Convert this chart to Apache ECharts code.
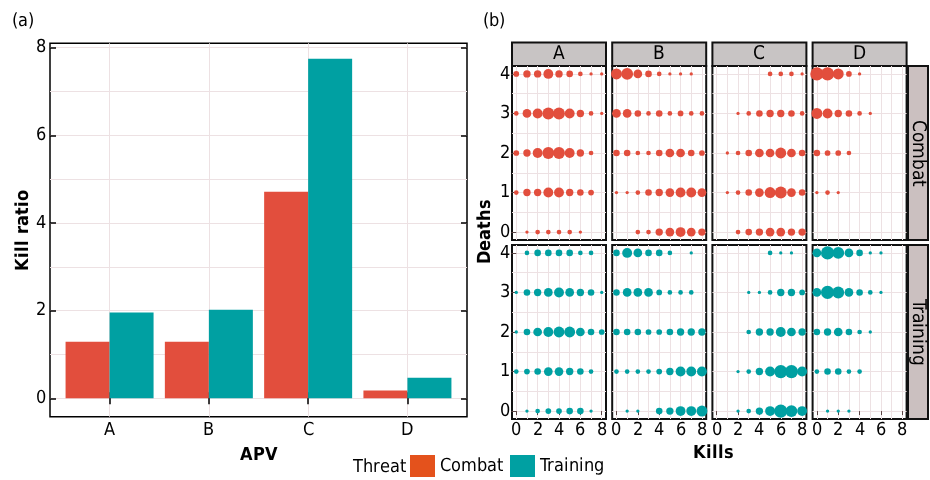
<!DOCTYPE html>
<html>
<head>
<meta charset="utf-8">
<script src="https://cdn.jsdelivr.net/npm/echarts@6/dist/echarts.min.js"></script>
<style>
@font-face {
  font-family: 'NarrowSans';
  font-weight: normal;
  src: local('Liberation Sans Narrow'), local('LiberationSansNarrow-Regular'), local('LiberationSansNarrow'),
       local('DejaVu Sans Condensed'), local('DejaVuSansCondensed');
}
@font-face {
  font-family: 'NarrowSans';
  font-weight: bold;
  src: local('Liberation Sans Narrow Bold'), local('LiberationSansNarrow-Bold'),
       local('DejaVu Sans Condensed Bold'), local('DejaVuSansCondensed-Bold');
}
html, body { margin: 0; padding: 0; background: #fff; }
#chart { width: 930px; height: 480px; }
</style>
</head>
<body>
<div id="chart"></div>
<script>
// (a) kill ratio per APV
const apv = ['A', 'B', 'C', 'D']
const combatRatio = [1.29, 1.29, 4.71, 0.18]
const trainingRatio = [1.96, 2.02, 7.75, 0.47]
const ratioTicks = [0, 2, 4, 6, 8]
const ratioMinor = [1, 3, 5, 7]

// (b) number of games per kills (columns 0..8) and deaths (rows, 4 down to 0)
const killTicks = [0, 2, 4, 6, 8]
const killMinor = [1, 3, 5, 7]
const deathTicks = [0, 1, 2, 3, 4]
const deathMinor = [0.5, 1.5, 2.5, 3.5]

const combatA = [
  [3, 5, 5, 9, 5, 4, 2, 1, 1],
  [2, 7, 9, 13, 13, 9, 5, 2, 1],
  [3, 5, 9, 13, 13, 9, 5, 2, 0],
  [2, 5, 5, 9, 9, 5, 4, 3, 0],
  [0, 1, 2, 2, 2, 2, 1, 0, 0]
]
const combatB = [
  [11, 13, 7, 4, 2, 1, 1, 1, 0],
  [7, 7, 4, 2, 4, 2, 3, 2, 2],
  [4, 4, 2, 2, 4, 7, 7, 4, 3],
  [1, 1, 2, 4, 5, 7, 9, 9, 7],
  [0, 0, 2, 2, 5, 7, 9, 7, 5]
]
const combatC = [
  [0, 0, 0, 0, 0, 2, 2, 2, 1],
  [0, 0, 1, 2, 4, 5, 5, 4, 2],
  [0, 1, 2, 4, 7, 7, 11, 7, 4],
  [0, 1, 2, 4, 7, 11, 13, 7, 4],
  [0, 0, 2, 4, 5, 7, 7, 5, 5]
]
const combatD = [
  [16, 16, 11, 3, 1, 0, 0, 0, 0],
  [11, 9, 5, 4, 2, 1, 0, 0, 0],
  [4, 3, 3, 2, 0, 0, 0, 0, 0],
  [1, 2, 1, 0, 0, 0, 0, 0, 0],
  [0, 0, 0, 0, 0, 0, 0, 0, 0]
]
const trainingA = [
  [0, 2, 4, 4, 4, 4, 2, 2, 0],
  [1, 4, 5, 7, 9, 7, 5, 4, 1],
  [1, 4, 7, 9, 11, 11, 7, 4, 3],
  [2, 3, 4, 7, 7, 5, 4, 2, 0],
  [0, 1, 2, 3, 3, 4, 4, 1, 0]
]
const trainingB = [
  [4, 9, 7, 4, 4, 2, 0, 1, 0],
  [4, 7, 7, 7, 3, 2, 2, 2, 0],
  [4, 4, 4, 3, 3, 4, 5, 5, 5],
  [2, 2, 2, 2, 3, 5, 9, 9, 9],
  [0, 1, 1, 0, 4, 5, 9, 9, 11]
]
const trainingC = [
  [0, 0, 0, 0, 0, 2, 1, 1, 0],
  [0, 0, 0, 1, 1, 2, 5, 5, 3],
  [0, 0, 0, 2, 5, 5, 9, 7, 5],
  [0, 0, 1, 2, 5, 9, 16, 16, 9],
  [0, 0, 1, 2, 5, 9, 16, 13, 9]
]
const trainingD = [
  [7, 16, 13, 7, 4, 1, 1, 0, 0],
  [7, 16, 13, 7, 4, 2, 1, 0, 0],
  [4, 5, 7, 4, 2, 1, 0, 0, 0],
  [2, 4, 4, 2, 2, 0, 0, 0, 0],
  [0, 1, 1, 1, 0, 0, 0, 0, 0]
]

const combatColor = '#E24E3D'
const trainingColor = '#00A0A2'
const gridColor = '#ede1e3'
const font = "NarrowSans, 'Liberation Sans', sans-serif"

const panels = [
  { name: 'Combat', color: combatColor, data: [combatA, combatB, combatC, combatD] },
  { name: 'Training', color: trainingColor, data: [trainingA, trainingB, trainingC, trainingD] }
]

// facet layout
const colLeft = [512, 612.2, 712.4, 812.6]
const rowTop = [66, 245]
const panelW = 94
const panelH = 174

const toPoints = (rows) => {
  const pts = []
  rows.forEach((row, i) => {
    row.forEach((n, k) => {
      if (n > 0) pts.push([k, 4 - i, n])
    })
  })
  return pts
}

const noTick = { show: false, length: 0 }

const buildOption = () => {
  const grids = [
    { left: 50, top: 43.3, width: 417, height: 373.4, show: true, borderColor: '#000', borderWidth: 1.5 }
  ]
  const xAxes = [
    {
      gridIndex: 0, type: 'value', min: 0.4, max: 4.6,
      axisLine: { show: false },
      axisTick: { customValues: [1, 2, 3, 4], inside: true, length: 6, lineStyle: { color: '#000', width: 1.5 } },
      axisLabel: { customValues: [1, 2, 3, 4], formatter: v => apv[Math.round(v) - 1], fontSize: 18, color: '#000', fontFamily: font, margin: 5 },
      splitLine: { show: true, lineStyle: { color: gridColor } }
    },
    {
      gridIndex: 0, type: 'value', min: 0.4, max: 4.6, position: 'top',
      axisLine: { show: false },
      axisTick: { customValues: [1, 2, 3, 4], inside: true, length: 6, lineStyle: { color: '#000', width: 1.5 } },
      axisLabel: { show: false },
      splitLine: { show: false }
    }
  ]
  const yAxes = [
    {
      gridIndex: 0, type: 'value', min: -0.42, max: 8.1,
      axisLine: { show: false },
      axisTick: { customValues: ratioTicks, inside: true, length: 6, lineStyle: { color: '#000', width: 1.5 } },
      axisLabel: { customValues: ratioTicks, fontSize: 18, color: '#000', fontFamily: font, margin: 4 },
      splitLine: { show: true, lineStyle: { color: gridColor } }
    },
    {
      gridIndex: 0, type: 'value', min: -0.42, max: 8.1, position: 'right',
      axisLine: { show: false },
      axisTick: { customValues: ratioTicks, inside: true, length: 6, lineStyle: { color: '#000', width: 1.5 } },
      axisLabel: { show: false },
      splitLine: { show: false }
    },
    {
      gridIndex: 0, type: 'value', min: -0.42, max: 8.1,
      axisLine: { show: false },
      axisTick: { ...noTick, customValues: ratioMinor },
      axisLabel: { show: false },
      splitLine: { show: true, lineStyle: { color: gridColor } }
    }
  ]

  const series = [
    {
      name: 'Combat', type: 'bar', xAxisIndex: 0, yAxisIndex: 0,
      barWidth: 44, barGap: '0%',
      itemStyle: { color: combatColor },
      data: combatRatio.map((v, i) => [i + 1, v])
    },
    {
      name: 'Training', type: 'bar', xAxisIndex: 0, yAxisIndex: 0,
      barWidth: 44, barGap: '0%',
      itemStyle: { color: trainingColor },
      data: trainingRatio.map((v, i) => [i + 1, v])
    }
  ]

  const graphics = []

  panels.forEach((threat, r) => {
    threat.data.forEach((rows, c) => {
      const g = grids.length
      grids.push({
        left: colLeft[c], top: rowTop[r], width: panelW, height: panelH,
        show: true, borderColor: '#111', borderWidth: 2
      })
      const xi = xAxes.length
      xAxes.push({
        gridIndex: g, type: 'value', min: -0.4, max: 8.4,
        axisLine: { show: false },
        axisTick: r === 1
          ? { customValues: killTicks, length: 4, lineStyle: { color: '#5a4444' } }
          : { ...noTick, customValues: killTicks },
        axisLabel: { show: r === 1, customValues: killTicks, fontSize: 18, color: '#000', fontFamily: font, margin: 2 },
        splitLine: { show: true, lineStyle: { color: gridColor } }
      }, {
        gridIndex: g, type: 'value', min: -0.4, max: 8.4, position: 'top',
        axisLine: { show: false },
        axisTick: { ...noTick, customValues: killMinor },
        axisLabel: { show: false },
        splitLine: { show: true, lineStyle: { color: gridColor } }
      })
      const yi = yAxes.length
      yAxes.push({
        gridIndex: g, type: 'value', min: -0.2, max: 4.2,
        axisLine: { show: false },
        axisTick: c === 0
          ? { customValues: deathTicks, length: 5, lineStyle: { color: '#5a4444' } }
          : { ...noTick, customValues: deathTicks },
        axisLabel: { show: c === 0, customValues: deathTicks, fontSize: 18, color: '#000', fontFamily: font, margin: 2 },
        splitLine: { show: true, lineStyle: { color: gridColor } }
      }, {
        gridIndex: g, type: 'value', min: -0.2, max: 4.2, position: 'right',
        axisLine: { show: false },
        axisTick: { ...noTick, customValues: deathMinor },
        axisLabel: { show: false },
        splitLine: { show: true, lineStyle: { color: gridColor } }
      })
      series.push({
        name: threat.name, type: 'scatter', xAxisIndex: xi, yAxisIndex: yi,
        symbol: 'circle',
        symbolSize: v => Math.sqrt(v[2]) * 3.3,
        itemStyle: { color: threat.color, opacity: 1 },
        clip: true,
        data: toPoints(rows)
      })
    })
    // right strip
    graphics.push({
      type: 'rect',
      shape: { x: 908, y: rowTop[r], width: 20, height: panelH },
      style: { fill: '#cbc0c0', stroke: '#111', lineWidth: 2 }
    }, {
      type: 'text',
      x: 918, y: rowTop[r] + panelH / 2, rotation: -Math.PI / 2,
      style: { text: threat.name, fontSize: 19, fontFamily: font, fill: '#000', align: 'center', verticalAlign: 'middle' }
    })
  })

  // top strips
  apv.forEach((name, c) => {
    graphics.push({
      type: 'rect',
      shape: { x: colLeft[c], y: 42.5, width: panelW, height: 23.5 },
      style: { fill: '#c8c4c4', stroke: '#111', lineWidth: 2 }
    }, {
      type: 'text',
      x: colLeft[c] + panelW / 2, y: 54.5,
      style: { text: name, fontSize: 19, fontFamily: font, fill: '#000', align: 'center', verticalAlign: 'middle' }
    })
  })

  const label = (text, x, y, opts = {}) => ({
    type: 'text', x, y, rotation: opts.rotation || 0,
    style: {
      text, fontSize: 18, fontFamily: font, fill: '#000',
      fontWeight: opts.bold ? 'bold' : 'normal',
      align: opts.align || 'center', verticalAlign: 'middle'
    }
  })

  graphics.push(
    label('(a)', 12, 21, { align: 'left' }),
    label('(b)', 483, 21, { align: 'left' }),
    label('Kill ratio', 23, 230, { bold: true, rotation: Math.PI / 2 }),
    label('APV', 258.5, 455, { bold: true }),
    label('Deaths', 485, 231, { bold: true, rotation: Math.PI / 2 }),
    label('Kills', 713, 453, { bold: true }),
    label('Threat', 353, 467, { align: 'left' })
  )

  return {
    animation: false,
    grid: grids,
    xAxis: xAxes,
    yAxis: yAxes,
    legend: {
      left: 410, top: 455, padding: 0,
      itemWidth: 25, itemHeight: 22, itemGap: 7,
      icon: 'rect', selectedMode: false,
      textStyle: { fontSize: 18, fontFamily: font, color: '#000' },
      data: [
        { name: 'Combat', itemStyle: { color: '#E4521C' } },
        { name: 'Training', itemStyle: { color: trainingColor } }
      ]
    },
    graphic: graphics,
    series: series
  }
}

const chart = echarts.init(document.getElementById('chart'))
const draw = () => chart.setOption(buildOption())

Promise.all([
  document.fonts.load('18px NarrowSans'),
  document.fonts.load('bold 18px NarrowSans')
]).then(draw, draw)

window.addEventListener('resize', () => chart.resize())
</script>
</body>
</html>
